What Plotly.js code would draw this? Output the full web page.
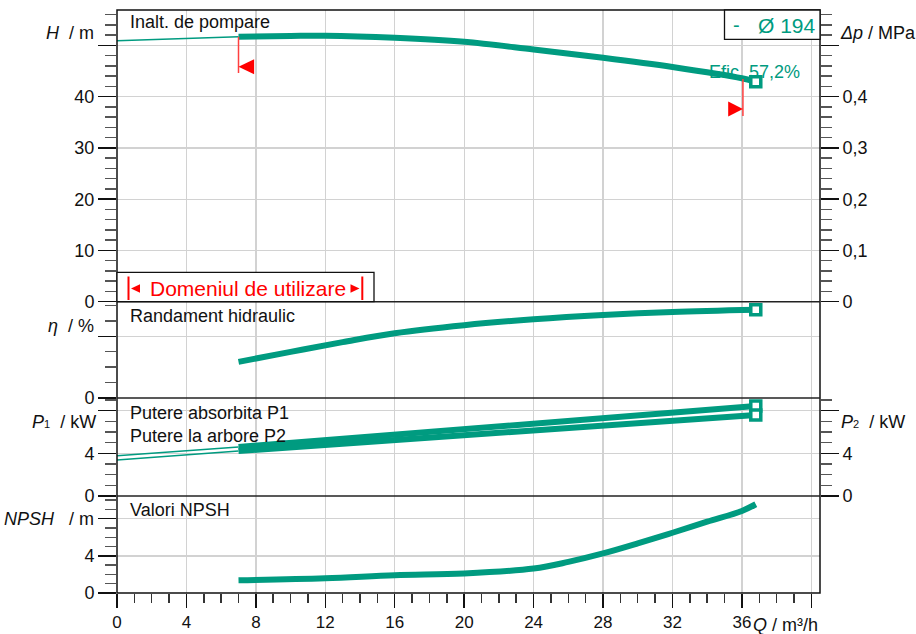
<!DOCTYPE html>
<html>
<head>
<meta charset="utf-8">
<script src="https://cdn.plot.ly/plotly-3.0.1.min.js"></script>
<style>html,body{margin:0;padding:0;background:#fff;}#chart{width:916px;height:634px;}</style>
</head>
<body>
<div id="chart"></div>
<script>
// ---- data ----
const qH = [0, 7, 10, 12, 16, 20, 24, 28, 32, 36, 36.8];
const headH = [50.9, 51.7, 51.85, 51.9, 51.5, 50.7, 49.2, 47.6, 45.8, 43.6, 42.9];

const qEta = [7, 10, 13, 16, 20, 24, 28, 32, 36.8];
const eta = [23.4, 29.9, 36.2, 42.0, 47.2, 51.0, 53.8, 55.8, 57.2];

const qP = [0, 7, 20, 36.8];
const p1 = [3.78, 4.59, 6.3, 8.43];
const p2 = [3.37, 4.22, 5.72, 7.59];

const qNPSH = [7, 12, 16, 20, 24, 26, 28, 30, 32, 34, 36, 36.8];
const npsh = [1.37, 1.59, 1.91, 2.1, 2.63, 3.35, 4.26, 5.34, 6.49, 7.68, 8.84, 9.56];

const rangeQ = [7, 36.06];          // limits of the operating range
const xTicks = [0, 4, 8, 12, 16, 20, 24, 28, 32, 36, 40];
const xTickText = ['0', '4', '8', '12', '16', '20', '24', '28', '32', '36', ''];
const diameterText = 'Ø 194';
const effText = 'Efic. 57,2%';

// ---- style ----
const teal = '#009b80';
const FONT = 'Liberation Sans, Arial, sans-serif';
const grid = '#d2d2d2';
const W = 916, H = 634, L = 117, R = 96, T = 10, B = 41;
const pw = W - L - R, ph = H - T - B;
const px = x => (x - L) / pw;
const py = y => (H - B - y) / ph;

function split(xs, ys, lim, low) {
  const ox = [], oy = [];
  xs.forEach((x, i) => { if (low ? x <= lim : x >= lim) { ox.push(x); oy.push(ys[i]); } });
  return [ox, oy];
}
const last = a => a[a.length - 1];

const traces = [];
function line(xs, ys, yaxis, width, shape) {
  traces.push({x: xs, y: ys, xaxis: 'x', yaxis: yaxis, mode: 'lines', hoverinfo: 'skip',
    line: {color: teal, width: width, shape: shape || 'spline', smoothing: 1}});
}
function endMarker(xv, yv, yaxis) {
  traces.push({x: [xv], y: [yv], xaxis: 'x', yaxis: yaxis, mode: 'markers', hoverinfo: 'skip',
    marker: {symbol: 'square', size: 10, color: 'white', line: {color: teal, width: 3.5}}});
}

// H
let [a, b] = split(qH, headH, rangeQ[0], true); line(a, b, 'y', 1.5);
[a, b] = split(qH, headH, rangeQ[0], false); line(a, b, 'y', 6);
endMarker(last(qH), last(headH), 'y');
// dummy for delta p axis
traces.push({x: [0], y: [0], xaxis: 'x', yaxis: 'y2', mode: 'markers', marker: {opacity: 0}, hoverinfo: 'skip'});
// eta
line(qEta, eta, 'y3', 6);
endMarker(last(qEta), last(eta), 'y3');
// P1, P2
[a, b] = split(qP, p1, rangeQ[0], true); line(a, b, 'y4', 1.5, 'linear');
[a, b] = split(qP, p2, rangeQ[0], true); line(a, b, 'y4', 1.5, 'linear');
[a, b] = split(qP, p1, rangeQ[0], false); line(a, b, 'y4', 6, 'linear');
[a, b] = split(qP, p2, rangeQ[0], false); line(a, b, 'y4', 6, 'linear');
endMarker(last(qP), last(p1), 'y4');
endMarker(last(qP), last(p2), 'y4');
traces.push({x: [0], y: [0], xaxis: 'x', yaxis: 'y5', mode: 'markers', marker: {opacity: 0}, hoverinfo: 'skip'});
// NPSH
line(qNPSH, npsh, 'y6', 6);

// domains
const dH = [py(301.7), 1], dEta = [py(398), py(301.7)], dP = [py(496), py(398)], dN = [0, py(496)];

const tickFont = {family: FONT, size: 18, color: '#111'};
function yax(domain, range, tickvals, ticktext, minorDtick, extra) {
  return Object.assign({
    domain: domain, range: range, anchor: 'x', tickmode: 'array', tickvals: tickvals, ticktext: ticktext,
    ticks: 'outside', ticklen: 18, tickwidth: 1.5, tickcolor: '#111', tickfont: tickFont,
    showgrid: true, gridcolor: grid, gridwidth: 1.3, zeroline: false, showline: false, fixedrange: true,
    minor: {dtick: minorDtick, tick0: 0, ticks: 'outside', ticklen: 11, tickwidth: 1.5, tickcolor: '#555', showgrid: false}
  }, extra || {});
}

const layout = {
  width: W, height: H, margin: {l: L, r: R, t: T, b: B},
  paper_bgcolor: 'white', plot_bgcolor: 'white', showlegend: false,
  font: {family: FONT, size: 18, color: '#111'},
  xaxis: {range: [0, 40.5], anchor: 'y6', tickmode: 'array', tickvals: xTicks, ticktext: xTickText,
    ticks: 'outside', ticklen: 14, tickwidth: 1.5, tickcolor: '#111', tickfont: {family: FONT, size: 17, color: '#111'},
    showgrid: true, gridcolor: grid, gridwidth: 1.3, zeroline: false, showline: false, fixedrange: true,
    minor: {dtick: 1, tick0: 0, ticks: 'outside', ticklen: 9, tickwidth: 1.5, tickcolor: '#333', showgrid: false}},
  yaxis: yax(dH, [0, (301.7 - 10) / 5.125], [0, 10, 20, 30, 40, 50], ['0', '10', '20', '30', '40', ''], 2),
  yaxis2: yax(dH, [0, (301.7 - 10) / 512.5], [0, 0.1, 0.2, 0.3, 0.4, 0.5], ['0', '0,1', '0,2', '0,3', '0,4', ''], 0.02,
    {overlaying: 'y', side: 'right', showgrid: false}),
  yaxis3: yax(dEta, [0, 62.4], [0, 40], ['0', ''], 10),
  yaxis4: yax(dP, [0, 9.18], [0, 4, 8], ['0', '4', ''], 1),
  yaxis5: yax(dP, [0, 9.18], [0, 4, 8], ['0', '4', ''], 1, {overlaying: 'y4', side: 'right', showgrid: false}),
  yaxis6: yax(dN, [0, 10.45], [0, 4, 8], ['0', '4', ''], 1),
  shapes: [],
  annotations: []
};

const S = layout.shapes, A = layout.annotations;
// frame and panel separators
S.push({type: 'rect', xref: 'paper', yref: 'paper', x0: 0, x1: 1, y0: 0, y1: 1, line: {color: '#111', width: 1.5}, layer: 'above'});
[dH[0], dEta[0], dP[0]].forEach(y => S.push({type: 'line', xref: 'paper', yref: 'paper', x0: 0, x1: 1, y0: y, y1: y, line: {color: '#222', width: 1.5}, layer: 'above'}));

// operating range marks (data coords)
const red = '#ff0000';
const hAt = q => { for (let i = 1; i < qH.length; i++) if (q <= qH[i]) { const t = (q - qH[i-1]) / (qH[i] - qH[i-1]); return headH[i-1] + t * (headH[i] - headH[i-1]); } return last(headH); };
S.push({type: 'line', xref: 'x', yref: 'y', x0: rangeQ[0], x1: rangeQ[0], y0: hAt(rangeQ[0]), y1: hAt(rangeQ[0]) - 7.1, line: {color: '#ff4040', width: 1.5}});
S.push({type: 'path', xref: 'x', yref: 'y', path: `M ${rangeQ[0]} 45.85 L ${rangeQ[0] + 0.9} 47.3 L ${rangeQ[0] + 0.9} 44.4 Z`, fillcolor: red, line: {color: red, width: 0}});
S.push({type: 'line', xref: 'x', yref: 'y', x0: rangeQ[1], x1: rangeQ[1], y0: hAt(rangeQ[1]) - 0.1, y1: hAt(rangeQ[1]) - 7.3, line: {color: '#ff4040', width: 1.5}});
S.push({type: 'path', xref: 'x', yref: 'y', path: `M ${rangeQ[1]} 37.6 L ${rangeQ[1] - 0.85} 39.05 L ${rangeQ[1] - 0.85} 36.15 Z`, fillcolor: red, line: {color: red, width: 0}});

// "Domeniul de utilizare" box
S.push({type: 'rect', xref: 'paper', yref: 'paper', x0: 0, x1: px(374), y0: dH[0], y1: py(272.3), line: {color: '#111', width: 1.3}, fillcolor: 'white', layer: 'above'});
S.push({type: 'line', xref: 'paper', yref: 'paper', x0: px(128.5), x1: px(128.5), y0: py(300), y1: py(276.5), line: {color: red, width: 2}, layer: 'above'});
S.push({type: 'line', xref: 'paper', yref: 'paper', x0: px(362.3), x1: px(362.3), y0: py(300), y1: py(276.5), line: {color: red, width: 2}, layer: 'above'});
S.push({type: 'path', xref: 'paper', yref: 'paper', layer: 'above', fillcolor: red, line: {color: red, width: 0},
  path: `M ${px(131)} ${py(288.5)} L ${px(140)} ${py(284.3)} L ${px(140)} ${py(292.7)} Z`});
S.push({type: 'path', xref: 'paper', yref: 'paper', layer: 'above', fillcolor: red, line: {color: red, width: 0},
  path: `M ${px(359.5)} ${py(288.5)} L ${px(350.5)} ${py(284.3)} L ${px(350.5)} ${py(292.7)} Z`});
A.push({xref: 'paper', yref: 'paper', x: px(148), y: py(288.5), xanchor: 'left', yanchor: 'middle', showarrow: false,
  text: 'Domeniul de utilizare', font: {family: FONT, size: 21, color: red}});

// diameter box
S.push({type: 'rect', xref: 'paper', yref: 'paper', x0: px(724.5), x1: 1, y0: py(39.3), y1: 1, line: {color: '#111', width: 1.3}, fillcolor: 'white', layer: 'above'});
A.push({xref: 'paper', yref: 'paper', x: px(736), y: py(25), xanchor: 'center', yanchor: 'middle', showarrow: false, text: '-', font: {family: FONT, size: 20, color: teal}});
A.push({xref: 'paper', yref: 'paper', x: px(756), y: py(25), xanchor: 'left', yanchor: 'middle', showarrow: false, text: diameterText, font: {family: FONT, size: 21, color: teal}});
A.push({xref: 'paper', yref: 'paper', x: px(707), y: py(72), xanchor: 'left', yanchor: 'middle', showarrow: false, text: effText, font: {family: FONT, size: 18, color: teal}});

// panel captions
const cap = (t, y) => A.push({xref: 'paper', yref: 'paper', x: px(128), y: py(y), xanchor: 'left', yanchor: 'middle', showarrow: false, text: t, font: {family: FONT, size: 18, color: '#111'}});
cap('Inalt. de pompare', 22.5);
cap('Randament hidraulic', 316);
cap('Putere absorbita P1', 412.5);
cap('Putere la arbore P2', 436);
cap('Valori NPSH', 510);

// axis labels
const nb = '\u00A0';
const lab = (t, x, y, anchor) => A.push({xref: 'paper', yref: 'paper', x: px(x), y: py(y), xanchor: anchor, yanchor: 'middle', showarrow: false, text: t, font: {family: FONT, size: 18, color: '#111'}});
lab('<i>H</i>' + nb + nb + '/ m', 96, 33, 'right');
lab('<i>η</i>' + nb + nb + '/ %', 96, 326, 'right');
lab('<i>P</i><span style="font-size:11px">1</span>' + nb + nb + '/ kW', 98, 421.5, 'right');
lab('<i>NPSH</i>' + nb + nb + nb + '/ m', 96, 519, 'right');
lab('<i>Δp</i>' + nb + '/ MPa', 838, 33, 'left');
lab('<i>P</i><span style="font-size:11px">2</span>' + nb + nb + '/ kW', 839, 421.5, 'left');
lab('<i>Q</i>' + nb + '/ m³/h', 751, 625, 'left');

Plotly.newPlot('chart', traces, layout, {staticPlot: true, displayModeBar: false});
</script>
</body>
</html>
